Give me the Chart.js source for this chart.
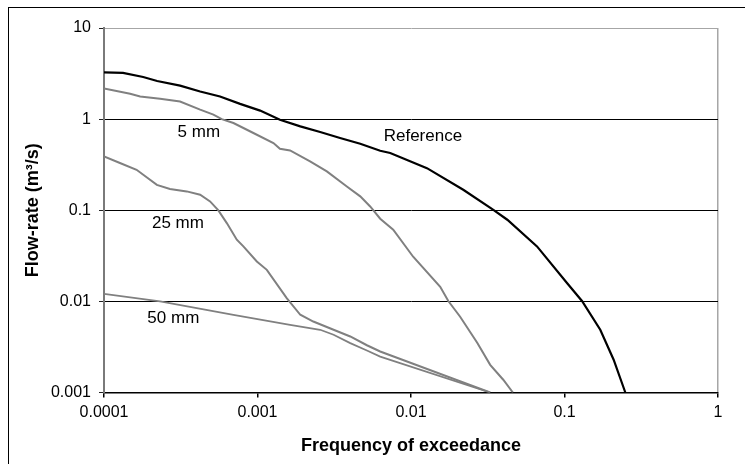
<!DOCTYPE html>
<html>
<head>
<meta charset="utf-8">
<script src="https://cdn.jsdelivr.net/npm/chart.js@4.4.1/dist/chart.umd.min.js"></script>
<style>
  html, body { margin: 0; padding: 0; background: #fff; overflow: hidden; }
  #wrap { position: relative; width: 745px; height: 464px; }
  #frame { position: absolute; left: 8px; top: 7px; width: 800px; height: 500px; border: 1px solid #000; }
  canvas { position: absolute; left: 0; top: 0; }
</style>
</head>
<body>
<div id="wrap">
  <div id="frame"></div>
  <canvas id="chart" width="745" height="464"></canvas>
</div>
<script>
'use strict';

// axis ticks
var xTicks = [0.0001, 0.001, 0.01, 0.1, 1];
var xTickLabels = ['0.0001', '0.001', '0.01', '0.1', '1'];
var yTicks = [0.001, 0.01, 0.1, 1, 10];
var yTickLabels = ['0.001', '0.01', '0.1', '1', '10'];

// series names
var seriesNames = ['Reference', '5 mm', '25 mm', '50 mm'];

// Reference curve
var refX = [0.0001, 0.000133, 0.00018, 0.000222, 0.000313, 0.000423, 0.00057, 0.00077, 0.00104, 0.0014,
  0.0019, 0.00256, 0.00345, 0.00467, 0.0063, 0.00732, 0.0127, 0.0219, 0.0344, 0.0424, 0.0662,
  0.1038, 0.13, 0.171, 0.209, 0.249];
var refY = [3.26, 3.21, 2.90, 2.62, 2.33, 2.01, 1.77, 1.47, 1.24, 0.985,
  0.832, 0.722, 0.620, 0.537, 0.45, 0.425, 0.290, 0.168, 0.101, 0.0787, 0.0401,
  0.0159, 0.0101, 0.00488, 0.00229, 0.001];

// 5 mm
var mm5X = [0.0001, 0.000148, 0.000172, 0.000232, 0.000313, 0.000423, 0.000516, 0.000585, 0.000697, 0.00094,
  0.00127, 0.0014, 0.00163, 0.0022, 0.00283, 0.00382, 0.00467, 0.00542, 0.0063, 0.00766,
  0.01033, 0.0155, 0.0175, 0.0209, 0.027, 0.0328, 0.0399, 0.0461];
var mm5Y = [2.17, 1.90, 1.77, 1.67, 1.56, 1.27, 1.12, 1.0, 0.906, 0.704,
  0.547, 0.473, 0.453, 0.343, 0.267, 0.182, 0.142, 0.110, 0.0807, 0.0611,
  0.0309, 0.01446, 0.0101, 0.00678, 0.00352, 0.00201, 0.00138, 0.001];

// 25 mm
var mm25X = [0.0001, 0.000127, 0.000163, 0.000221, 0.000269, 0.000346, 0.000423, 0.000491, 0.000556, 0.000631,
  0.000733, 0.000809, 0.00099, 0.00115, 0.00155, 0.0019, 0.00231, 0.00313, 0.00402, 0.00516, 0.0063, 0.0328];
var mm25Y = [0.390, 0.330, 0.278, 0.190, 0.171, 0.161, 0.148, 0.125, 0.0995, 0.0723,
  0.0475, 0.0401, 0.0274, 0.0222, 0.01087, 0.00713, 0.00601, 0.00488, 0.00412, 0.00330, 0.00282, 0.001];

// 50 mm
var mm50X = [0.0001, 0.000232, 0.000697, 0.00163, 0.00256, 0.00313, 0.00402, 0.00516, 0.0063, 0.0328];
var mm50Y = [0.0121, 0.00998, 0.00713, 0.00553, 0.00488, 0.0043, 0.00348, 0.00289, 0.00248, 0.001];

// where the curve names sit (data coordinates)
var labelX = [0.01196, 0.000415, 0.000303, 0.000283];
var labelY = [0.649, 0.71, 0.0724, 0.00644];

function toPoints(xs, ys){
  var pts = [];
  for (var i = 0; i < xs.length; i++){
    pts.push({x: xs[i], y: ys[i]});
  }
  return pts;
}

var font = "'Liberation Sans', Arial, sans-serif";

// writes the series names next to the curves
var curveLabels = {
  id: 'curveLabels',
  afterDatasetsDraw: function(chart){
    var ctx = chart.ctx;
    var xs = chart.scales.x;
    var ys = chart.scales.y;
    ctx.save();
    ctx.font = '17px ' + font;
    ctx.fillStyle = '#000';
    ctx.textAlign = 'center';
    ctx.textBaseline = 'middle';
    for (var i = 0; i < seriesNames.length; i++){
      ctx.fillText(seriesNames[i], xs.getPixelForValue(labelX[i]), ys.getPixelForValue(labelY[i]));
    }
    ctx.restore();
  }
};

var ctx = document.getElementById('chart').getContext('2d');
new Chart(ctx, {
  type: 'scatter',
  data: {
    datasets: [
      {label: seriesNames[0], data: toPoints(refX, refY), borderColor: '#000000', borderWidth: 2.2},
      {label: seriesNames[1], data: toPoints(mm5X, mm5Y), borderColor: '#808080', borderWidth: 2},
      {label: seriesNames[2], data: toPoints(mm25X, mm25Y), borderColor: '#808080', borderWidth: 2},
      {label: seriesNames[3], data: toPoints(mm50X, mm50Y), borderColor: '#808080', borderWidth: 1.8}
    ]
  },
  options: {
    responsive: false,
    animation: false,
    showLine: true,
    elements: {point: {radius: 0}, line: {tension: 0}},
    layout: {padding: {left: 0, right: 27, top: 28, bottom: 0}},
    plugins: {legend: {display: false}, tooltip: {enabled: false}},
    scales: {
      x: {
        type: 'logarithmic',
        min: 0.0001,
        max: 1,
        afterBuildTicks: function(scale){
          scale.ticks = xTicks.map(function(v){ return {value: v}; });
        },
        afterFit: function(scale){ scale.height = 71.5; },
        ticks: {
          autoSkip: false,
          maxRotation: 0,
          padding: 5,
          color: '#000',
          font: {family: font, size: 16},
          callback: function(value){
            var i = xTicks.indexOf(value);
            return i >= 0 ? xTickLabels[i] : '';
          }
        },
        grid: {
          color: function(c){ return c.tick && c.tick.value === 1 ? '#a6a6a6' : 'rgba(0,0,0,0)'; },
          lineWidth: 1.5,
          tickColor: '#000',
          tickLength: 5
        },
        border: {color: '#000', width: 1.5},
        title: {
          display: true,
          text: 'Frequency of exceedance',
          color: '#000',
          font: {family: font, size: 18, weight: 'bold'},
          padding: {top: 4, bottom: 7}
        }
      },
      y: {
        type: 'logarithmic',
        min: 0.001,
        max: 10,
        afterBuildTicks: function(scale){
          scale.ticks = yTicks.map(function(v){ return {value: v}; });
        },
        afterFit: function(scale){ scale.width = 104; },
        ticks: {
          autoSkip: false,
          padding: 8,
          color: '#000',
          font: {family: font, size: 16},
          callback: function(value){
            var i = yTicks.indexOf(value);
            return i >= 0 ? yTickLabels[i] : '';
          }
        },
        grid: {
          color: function(c){ return c.tick && c.tick.value === 10 ? '#a6a6a6' : '#000'; },
          lineWidth: 1,
          tickColor: '#222',
          tickLength: 5
        },
        border: {color: '#7a7a7a', width: 2},
        title: {
          display: true,
          text: 'Flow-rate (m³/s)',
          color: '#000',
          font: {family: font, size: 18, weight: 'bold'},
          padding: {top: 22, bottom: 4}
        }
      }
    }
  },
  plugins: [curveLabels]
});
</script>
</body>
</html>
